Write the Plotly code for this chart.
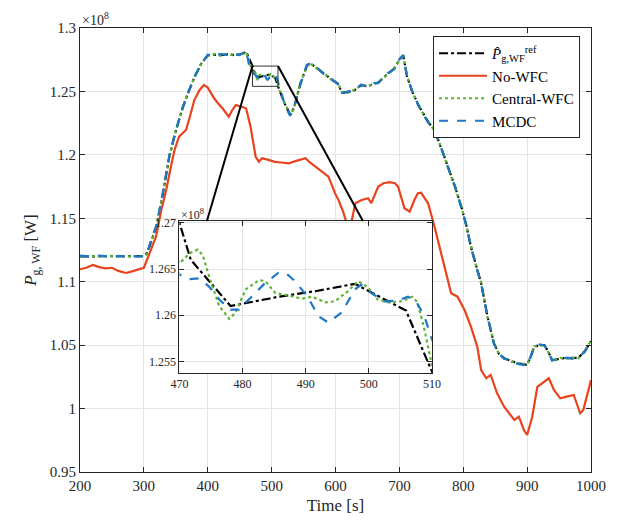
import plotly.graph_objects as go

# ---------------- data (values in units of 1e8 W) ----------------
t_ref = [200, 210, 220, 230, 240, 250, 260, 270, 280, 290, 300, 305, 310, 320, 330, 340, 350, 360, 370,
         380, 390, 400, 410, 420, 430, 440, 450, 456, 460, 465,
         470, 471.8, 478.1, 485.7, 491.5, 497.8, 505.9, 510,
         520, 529, 535, 545, 555, 560, 568, 584, 595, 604, 610, 620, 630, 640, 650, 660, 667, 682, 692,
         700, 706, 712, 720, 730, 740, 745, 755, 760, 770, 776, 787, 797, 805, 812, 820, 828, 838, 848,
         856, 864, 875, 885, 900, 905, 911, 920, 927, 933, 939, 945, 952, 962, 973, 980, 990, 1000]
p_ref = [1.1200, 1.1200, 1.1201, 1.1199, 1.1200, 1.1201, 1.1199, 1.1200, 1.1200, 1.1200, 1.1202, 1.1225,
         1.1300, 1.1440, 1.1700, 1.1990, 1.2190, 1.2360, 1.2500, 1.2620, 1.2720, 1.2785, 1.2790, 1.2786,
         1.2792, 1.2788, 1.2791, 1.2800, 1.2815, 1.2760,
         1.2700, 1.2660, 1.2610, 1.2620, 1.2626, 1.2634, 1.2605, 1.2539,
         1.2410, 1.2314, 1.2370, 1.2560, 1.2700, 1.2722, 1.2695, 1.2630, 1.2590, 1.2560, 1.2490, 1.2495,
         1.2510, 1.2550, 1.2540, 1.2560, 1.2570, 1.2640, 1.2680, 1.2750, 1.2785, 1.2620, 1.2500, 1.2390,
         1.2300, 1.2260, 1.2196, 1.2130, 1.1990, 1.1907, 1.1750, 1.1591, 1.1440, 1.1276, 1.1130, 1.0987,
         1.0724, 1.0515, 1.0430, 1.0396, 1.0375, 1.0357, 1.0344, 1.0400, 1.0488, 1.0500, 1.0501, 1.0450,
         1.0383, 1.0385, 1.0396, 1.0398, 1.0396, 1.0400, 1.0450, 1.0530]

t_nowfc = [200, 210, 220, 230, 240, 250, 260, 272, 280, 290, 300, 309, 319, 327, 335, 342, 348, 355, 366,
           372, 379, 387, 394, 400, 410, 417, 423, 433, 438, 444, 452, 460, 467, 475, 480, 485, 495, 505,
           515, 527, 540, 553, 560, 568, 580, 589, 599, 605, 612, 620, 625, 631, 641, 651, 656, 667, 675,
           685, 693, 698, 708, 716, 724, 729, 734, 745, 755, 768, 781, 791, 802, 812, 822, 828, 836, 843,
           853, 864, 880, 887, 895, 900, 908, 916, 926, 934, 942, 952, 962, 973, 983, 988, 1000]
p_nowfc = [1.1098, 1.1110, 1.1132, 1.1115, 1.1105, 1.1110, 1.1085, 1.1069, 1.1080, 1.1092, 1.1110, 1.1226,
           1.1355, 1.1560, 1.1723, 1.1900, 1.2038, 1.2143, 1.2196, 1.2300, 1.2432, 1.2510, 1.2551, 1.2530,
           1.2446, 1.2400, 1.2367, 1.2301, 1.2350, 1.2393, 1.2380, 1.2367, 1.2222, 1.1985, 1.1946, 1.1973,
           1.1960, 1.1945, 1.1940, 1.1933, 1.1955, 1.1973, 1.1940, 1.1907, 1.1860, 1.1828, 1.1700, 1.1640,
           1.1550, 1.1420, 1.1470, 1.1618, 1.1644, 1.1658, 1.1620, 1.1750, 1.1776, 1.1785, 1.1776, 1.1750,
           1.1579, 1.1552, 1.1650, 1.1697, 1.1702, 1.1618, 1.1434, 1.1171, 1.0909, 1.0882, 1.0777, 1.0646,
           1.0488, 1.0304, 1.0239, 1.0265, 1.0120, 1.0015, 0.9910, 0.9936, 0.9831, 0.9792, 0.9936, 1.0172,
           1.0212, 1.0239, 1.0147, 1.0081, 1.0094, 1.0107, 0.9963, 0.9990, 1.0225]

t_central = [200, 210, 220, 230, 240, 250, 260, 270, 280, 290, 300, 305, 310, 320, 330, 340, 350, 360, 370,
             380, 390, 400, 410, 420, 430, 440, 450, 456, 460, 465,
             470, 471.6, 472.9, 473.7, 474.7, 476.3, 477.9, 478.9, 480.5, 482.6, 483.6, 485.2, 486.8, 488.3,
             489.4, 491, 493.1, 494.6, 496.7, 498.3, 499.9, 501.4, 503, 505.1, 506.9, 507.7, 508.8, 510,
             515, 520, 529, 535, 545, 555, 560, 568, 584, 595, 604, 610, 620, 630, 640, 650, 660, 667, 682,
             692, 700, 706, 712, 720, 730, 740, 745, 755, 760, 770, 776, 787, 797, 805, 812, 820, 828, 838,
             848, 856, 864, 875, 885, 900, 905, 911, 920, 927, 933, 939, 945, 952, 962, 973, 980, 990, 1000]
p_central = [1.1202, 1.1199, 1.1203, 1.1198, 1.1201, 1.1204, 1.1198, 1.1202, 1.1199, 1.1203, 1.1200, 1.1220,
             1.1295, 1.1445, 1.1705, 1.1985, 1.2195, 1.2355, 1.2505, 1.2615, 1.2725, 1.2780, 1.2795, 1.2782,
             1.2796, 1.2784, 1.2794, 1.2798, 1.2812, 1.2730,
             1.2656, 1.2667, 1.2671, 1.2665, 1.2642, 1.2610, 1.2596, 1.2603, 1.2628, 1.2638, 1.2637, 1.2624,
             1.2622, 1.2620, 1.2618, 1.2620, 1.2614, 1.2615, 1.2626, 1.2637, 1.2630, 1.2617, 1.2614, 1.2615,
             1.2620, 1.2614, 1.2585, 1.2546,
             1.2470, 1.2415, 1.2318, 1.2365, 1.2565, 1.2695, 1.2725, 1.2690, 1.2635, 1.2585, 1.2565, 1.2495,
             1.2490, 1.2515, 1.2545, 1.2545, 1.2555, 1.2575, 1.2635, 1.2685, 1.2745, 1.2790, 1.2625, 1.2495,
             1.2395, 1.2295, 1.2265, 1.2190, 1.2135, 1.1985, 1.1912, 1.1745, 1.1596, 1.1435, 1.1281, 1.1125,
             1.0992, 1.0719, 1.0520, 1.0425, 1.0400, 1.0370, 1.0360, 1.0348, 1.0395, 1.0492, 1.0496, 1.0505,
             1.0445, 1.0388, 1.0380, 1.0400, 1.0394, 1.0400, 1.0396, 1.0455, 1.0535]

t_mcdc = [200, 210, 220, 230, 240, 250, 260, 270, 280, 290, 300, 305, 310, 320, 330, 340, 350, 360, 370,
          380, 390, 400, 410, 420, 430, 440, 450, 456, 460, 465,
          470, 471.6, 473.1, 474.7, 476.3, 478.1, 479.4, 481.5, 483.6, 485.7, 486.8, 488.3, 490.4, 492,
          493.6, 495.7, 497.8, 498.8, 500.4, 502.5, 504.6, 506.2, 507.5, 508.8, 510,
          515, 520, 529, 535, 545, 555, 560, 568, 584, 595, 604, 610, 620, 630, 640, 650, 660, 667, 682,
          692, 700, 706, 712, 720, 730, 740, 745, 755, 760, 770, 776, 787, 797, 805, 812, 820, 828, 838,
          848, 856, 864, 875, 885, 900, 905, 911, 920, 927, 933, 939, 945, 952, 962, 973, 980, 990, 1000]
p_mcdc = [1.1205, 1.1201, 1.1198, 1.1206, 1.1200, 1.1196, 1.1204, 1.1199, 1.1206, 1.1198, 1.1203, 1.1228,
          1.1305, 1.1450, 1.1710, 1.2000, 1.2185, 1.2365, 1.2495, 1.2625, 1.2715, 1.2790, 1.2787, 1.2795,
          1.2788, 1.2794, 1.2786, 1.2805, 1.2827, 1.2700,
          1.2644, 1.2639, 1.2640, 1.2631, 1.2617, 1.2606, 1.2606, 1.2621, 1.2635, 1.2646, 1.2646, 1.2637,
          1.2619, 1.2599, 1.2592, 1.2603, 1.2628, 1.2633, 1.2624, 1.2615, 1.2616, 1.2620, 1.2615, 1.2599,
          1.2574,
          1.2495, 1.2405, 1.2308, 1.2375, 1.2555, 1.2710, 1.2718, 1.2700, 1.2625, 1.2595, 1.2555, 1.2485,
          1.2500, 1.2505, 1.2555, 1.2535, 1.2565, 1.2565, 1.2645, 1.2675, 1.2755, 1.2782, 1.2615, 1.2505,
          1.2385, 1.2305, 1.2255, 1.2200, 1.2125, 1.1995, 1.1902, 1.1755, 1.1586, 1.1445, 1.1271, 1.1135,
          1.0982, 1.0729, 1.0510, 1.0435, 1.0392, 1.0380, 1.0352, 1.0340, 1.0405, 1.0484, 1.0505, 1.0497,
          1.0455, 1.0378, 1.0390, 1.0392, 1.0402, 1.0392, 1.0404, 1.0445, 1.0525]

main_xticks = [200, 300, 400, 500, 600, 700, 800, 900, 1000]
main_yticks = [0.95, 1.0, 1.05, 1.1, 1.15, 1.2, 1.25, 1.3]
main_yticktext = ["0.95", "1", "1.05", "1.1", "1.15", "1.2", "1.25", "1.3"]
inset_xticks = [470, 480, 490, 500, 510]
inset_yticks = [1.255, 1.26, 1.265, 1.27]
inset_yticktext = ["1.255", "1.26", "1.265", "1.27"]
zoom_window = {"x": [470, 510], "y": [1.254, 1.27]}

names = ["<i>P̂</i><sub>g,WF</sub><sup>ref</sup>", "No-WFC", "Central-WFC", "MCDC"]

# ---------------- figure ----------------
FONT = "Liberation Serif"
AX = "#262626"
GRID = "#e4e4e4"

C_REF = "#000000"
C_NO = "#E8431C"
C_CEN = "#5DB532"
C_MC = "#1F77C8"

fig = go.Figure()

series = [
    (t_ref, p_ref, names[0], C_REF, "dashdot"),
    (t_nowfc, p_nowfc, names[1], C_NO, "solid"),
    (t_central, p_central, names[2], C_CEN, "dot"),
    (t_mcdc, p_mcdc, names[3], C_MC, "dash"),
]
for i in range(4):
    t, p, nm, col, dash = series[i]
    fig.add_trace(go.Scatter(x=t, y=p, mode="lines", name=nm,
                             line=dict(color=col, width=2.2, dash=dash),
                             xaxis="x", yaxis="y"))

# inset traces
for i in [0, 2, 3]:
    t, p, nm, col, dash = series[i]
    fig.add_trace(go.Scatter(x=t, y=p, mode="lines", name=nm, showlegend=False,
                             line=dict(color=col, width=2.2, dash=dash),
                             xaxis="x2", yaxis="y2"))

# inset placement (fractions of the main plot area)
inset_xdom = [0.1946, 0.6887]
inset_ydom = [0.223, 0.5653]
main_yrange = [0.95, 1.3]
inset_top = main_yrange[0] + inset_ydom[1] * (main_yrange[1] - main_yrange[0])

# zoom rectangle and connector lines (ending at the inset's top edge)
x0, x1 = zoom_window["x"]
y0, y1 = zoom_window["y"]
fig.add_shape(type="rect", xref="x", yref="y", x0=x0, x1=x1, y0=y0, y1=y1,
              line=dict(color="#333333", width=1), layer="above")
slope_l = (370.8 - x0) / (1.10 - y1)
slope_r = (695.0 - x1) / (1.10 - y1)
fig.add_shape(type="line", xref="x", yref="y", x0=x0, y0=y1,
              x1=x0 + slope_l * (inset_top - y1), y1=inset_top,
              line=dict(color="#000000", width=2), layer="above")
fig.add_shape(type="line", xref="x", yref="y", x0=x1, y0=y1,
              x1=x1 + slope_r * (inset_top - y1), y1=inset_top,
              line=dict(color="#000000", width=2), layer="above")

axis_common = dict(showline=True, linecolor=AX, linewidth=1, mirror="ticks", ticks="inside",
                   tickcolor=AX, ticklen=5, showgrid=True, gridcolor=GRID, gridwidth=1,
                   zeroline=False, tickfont=dict(family=FONT, size=15, color=AX))

fig.update_layout(
    width=610, height=517,
    margin=dict(l=72, r=16, t=20, b=53),
    paper_bgcolor="white", plot_bgcolor="white",
    font=dict(family=FONT, size=15, color=AX),
    xaxis=dict(domain=[0, 1], range=[200, 1000], tickvals=main_xticks, anchor="y",
               title=dict(text="Time [s]", font=dict(family=FONT, size=17, color=AX), standoff=6),
               **axis_common),
    yaxis=dict(domain=[0, 1], range=main_yrange, tickvals=main_yticks, ticktext=main_yticktext,
               anchor="x",
               title=dict(text="<i>P</i><sub>g, WF</sub> [W]", font=dict(family=FONT, size=17, color=AX),
                          standoff=8),
               **axis_common),
    xaxis2=dict(domain=inset_xdom, range=[470, 510], tickvals=inset_xticks, anchor="y2",
                **{**axis_common, "tickfont": dict(family=FONT, size=12, color=AX)}),
    yaxis2=dict(domain=inset_ydom, range=[1.25375, 1.2702], tickvals=inset_yticks,
                ticktext=inset_yticktext, anchor="x2",
                **{**axis_common, "tickfont": dict(family=FONT, size=12, color=AX)}),
    legend=dict(x=0.9786, xanchor="right", y=0.982, yanchor="top",
                bgcolor="white", bordercolor=AX, borderwidth=1,
                font=dict(family=FONT, size=15, color="#000000"),
                itemwidth=48, tracegroupgap=0),
    showlegend=True,
)

fig.add_annotation(text="×10<sup>8</sup>", xref="x domain", yref="y domain", x=0.0, y=1.0,
                   xanchor="left", yanchor="bottom", showarrow=False, yshift=-2,
                   font=dict(family=FONT, size=14, color=AX))
fig.add_annotation(text="×10<sup>8</sup>", xref="x2 domain", yref="y2 domain", x=0.0, y=1.0,
                   xanchor="left", yanchor="bottom", showarrow=False, yshift=-3,
                   font=dict(family=FONT, size=12, color=AX))

fig.write_html("out.html")
